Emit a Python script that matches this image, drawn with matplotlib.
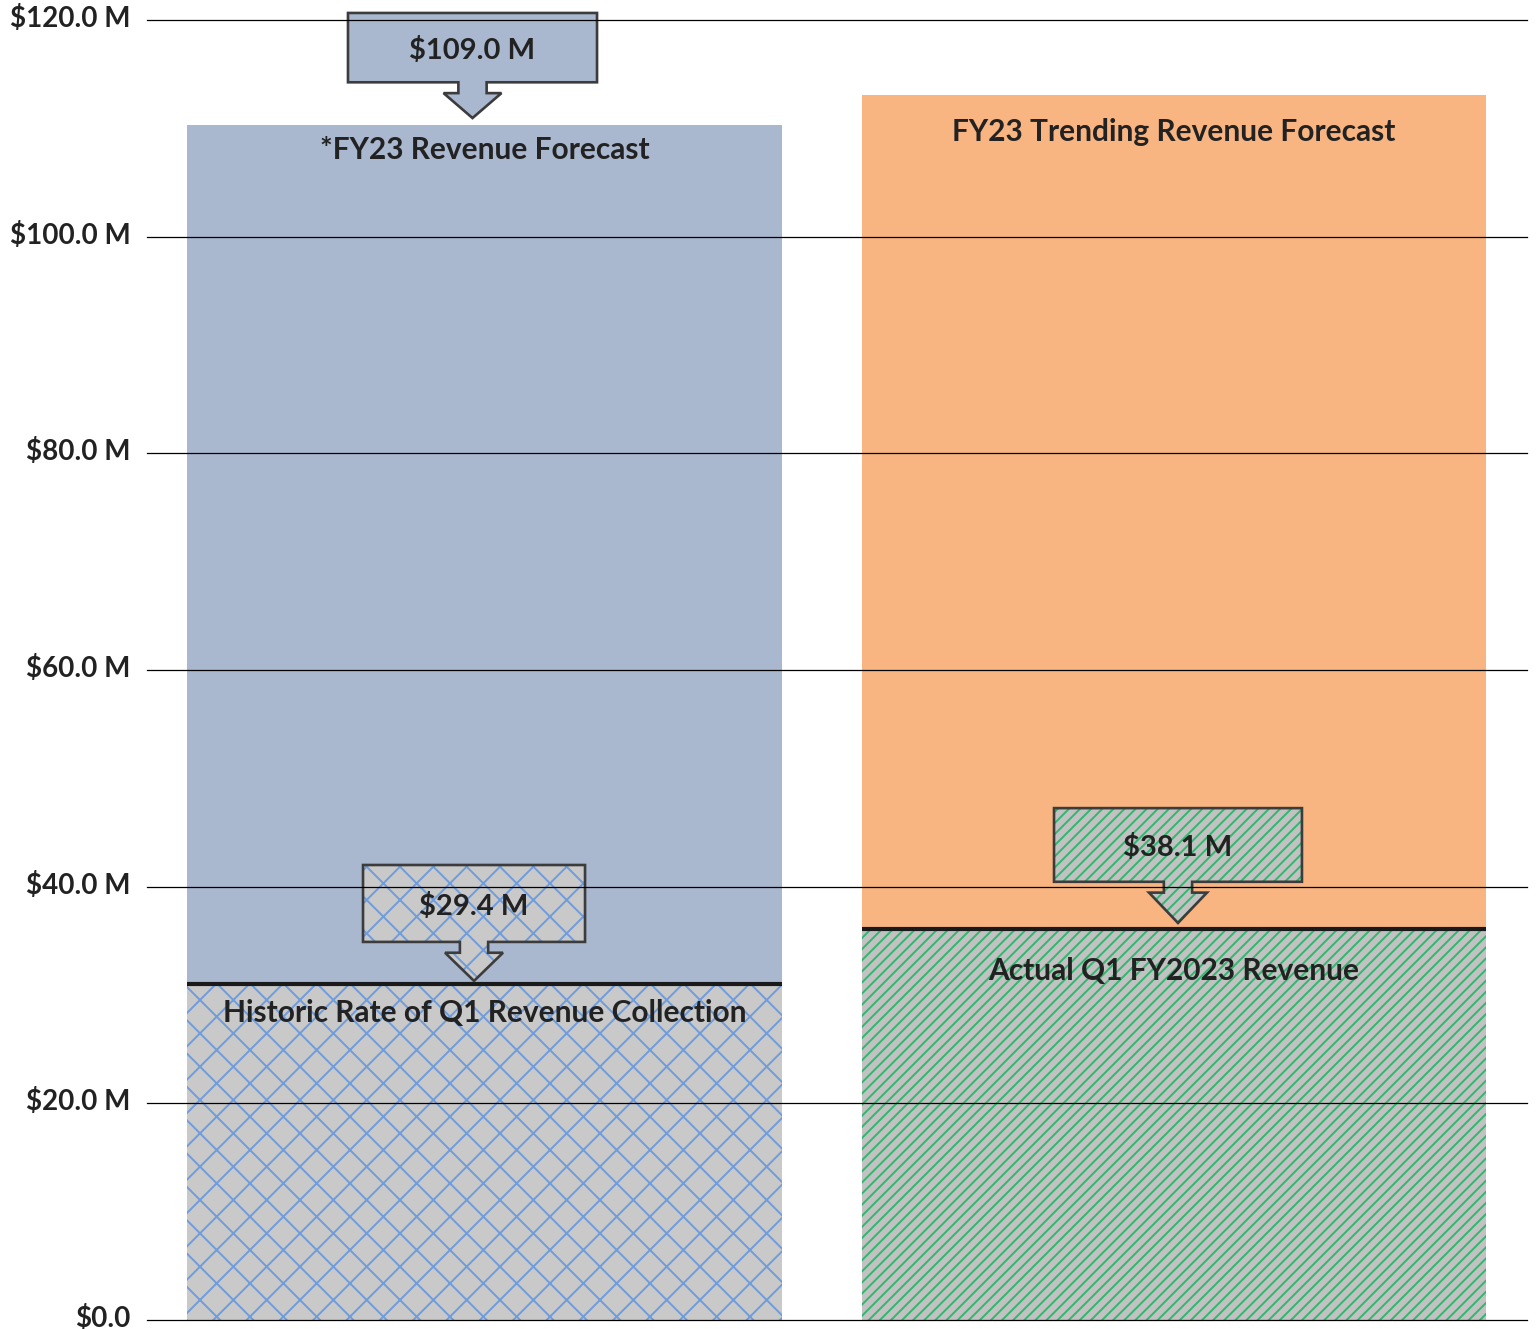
import matplotlib.pyplot as plt
import matplotlib.transforms as mtransforms
from matplotlib.patches import Polygon

plt.rcParams['font.family'] = ['Lato', 'DejaVu Sans']
plt.rcParams['hatch.linewidth'] = 1.4

# data (millions of dollars)
bars = ["FY23 Forecast", "FY23 Trending"]
forecast = [110.3, 113.1]
actual = [31.0, 36.1]
forecast_labels = ["*FY23 Revenue Forecast", "FY23 Trending Revenue Forecast"]
actual_labels = ["Historic Rate of Q1 Revenue Collection", "Actual Q1 FY2023 Revenue"]
callout_forecast = "$109.0 M"
callout_actual = ["$29.4 M", "$38.1 M"]
yticks = [0, 20, 40, 60, 80, 100, 120]
ytick_labels = ["$0.0", "$20.0 M", "$40.0 M", "$60.0 M", "$80.0 M", "$100.0 M", "$120.0 M"]

TEXT = "#222222"
EDGE = "#3c3c3c"
top_color = ["#a9b8cf", "#f8b581"]
base_color = ["#c9c9c9", "#c2c2c2"]
hatch_color = ["#6f9cdb", "#2fb86e"]
hatches = ["x", "///"]


def callout(ax, xc, tip, label, half_w, fill, hcolor=None, hatch=None,
            box_h=6.8, head_h=2.6, gap=1.0, stem=0.0205, head=0.042):
    head_top = tip + head_h
    box_bot = head_top + gap
    box_top = box_bot + box_h
    pts = [(xc - half_w, box_top), (xc + half_w, box_top),
           (xc + half_w, box_bot), (xc + stem, box_bot),
           (xc + stem, head_top), (xc + head, head_top),
           (xc, tip), (xc - head, head_top),
           (xc - stem, head_top), (xc - stem, box_bot),
           (xc - half_w, box_bot)]
    if hatch:
        ax.add_patch(Polygon(pts, closed=True, facecolor=fill, edgecolor=hcolor,
                             linewidth=0, hatch=hatch, zorder=4, clip_on=False))
    else:
        ax.add_patch(Polygon(pts, closed=True, facecolor=fill, linewidth=0,
                             zorder=4, clip_on=False))
    ax.add_patch(Polygon(pts, closed=True, fill=False, edgecolor=EDGE,
                         linewidth=1.9, zorder=5, clip_on=False, joinstyle='miter'))
    ax.text(xc, (box_top + box_bot) / 2 - 0.25, label, ha='center', va='center',
            fontsize=21, fontweight='bold', color=TEXT, zorder=7)


def main():
    fig = plt.figure(figsize=(15.38, 13.29), dpi=100)
    ax = fig.add_axes([147 / 1538, 9 / 1329, 1380 / 1538, 1300 / 1329])

    x = [0, 1]
    widths = [0.863, 0.905]
    ax.bar(x, forecast, width=widths, color=top_color, linewidth=0, zorder=1)
    for i in range(2):
        ax.bar(x[i], actual[i], width=widths[i], color=base_color[i],
               edgecolor=hatch_color[i], linewidth=0, hatch=hatches[i], zorder=2)
        ax.hlines(actual[i], x[i] - widths[i] / 2, x[i] + widths[i] / 2,
                  color="#1a1a1a", linewidth=3, zorder=3)

    # labels inside the bars
    top_off = [2.3, 3.4]
    act_off = [2.7, 3.9]
    for i in range(2):
        ax.text(x[i], forecast[i] - top_off[i], forecast_labels[i], ha='center',
                va='center', fontsize=21.5, fontweight='bold', color=TEXT, zorder=7)
        ax.text(x[i], actual[i] - act_off[i], actual_labels[i], ha='center',
                va='center', fontsize=21.5, fontweight='bold', color=TEXT, zorder=7)

    callout(ax, -0.0174, forecast[0] + 0.65, callout_forecast, 0.1806,
            top_color[0], box_h=6.4, head_h=2.3)
    callout(ax, -0.0152, actual[0] + 0.3, callout_actual[0], 0.161,
            base_color[0], hatch_color[0], hatches[0], box_h=7.1)
    callout(ax, 1.0058, actual[1] + 0.55, callout_actual[1], 0.1798,
            base_color[1], hatch_color[1], hatches[1], head_h=2.8)

    for v in yticks:
        ax.axhline(v, color="black", linewidth=0.9, zorder=6, clip_on=False)

    ax.set_xlim(-0.4895, 1.512)
    ax.set_ylim(0, 120)
    ax.set_yticks(yticks)
    ax.set_yticklabels(ytick_labels, fontsize=20, fontweight='bold', color=TEXT)
    ax.tick_params(axis='y', length=0, pad=12)
    shift = mtransforms.ScaledTranslation(0, 4 / 100, fig.dpi_scale_trans)
    for lab in ax.get_yticklabels():
        lab.set_transform(lab.get_transform() + shift)
    ax.set_xticks([])
    for s in ax.spines.values():
        s.set_visible(False)

    fig.savefig("out.png", dpi=100)


if __name__ == "__main__":
    main()
